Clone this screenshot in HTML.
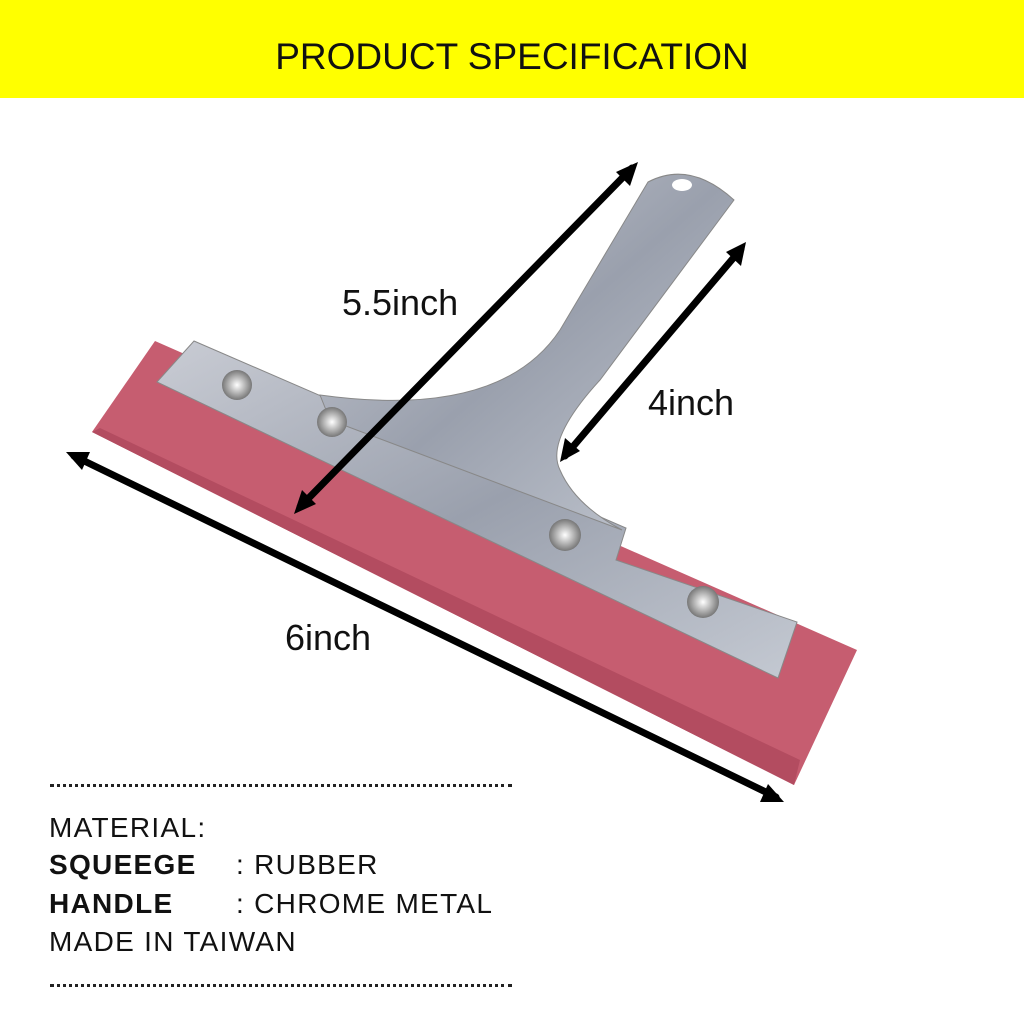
<!DOCTYPE html>
<html><head><meta charset="utf-8"><style>
body{margin:0;width:1024px;height:1024px;background:#fff;position:relative;overflow:hidden;font-family:"Liberation Sans",sans-serif}
.ban{position:absolute;left:0;top:0;width:1024px;height:98px;background:#ffff00}
.t{position:absolute;color:#111;white-space:nowrap}
.dot{position:absolute;left:50px;width:462px;border-top:3px dotted #222}
.s{letter-spacing:1.3px}
</style></head><body>
<div class="ban"></div>
<div class="t" style="left:0;width:1024px;text-align:center;top:36px;font-size:37px;font-weight:500">PRODUCT SPECIFICATION</div>
<svg width="1024" height="1024" style="position:absolute;left:0;top:0">
<defs>
<linearGradient id="m" x1="0" y1="0" x2="1" y2="1"><stop offset="0" stop-color="#c9ccd4"/><stop offset=".5" stop-color="#9aa0ad"/><stop offset="1" stop-color="#c4c9d2"/></linearGradient>
<radialGradient id="r"><stop offset="0" stop-color="#fff"/><stop offset="1" stop-color="#777"/></radialGradient>
</defs>
<polygon points="155,341 857,650 794,785 92,432" fill="#c65d70"/>
<polygon points="100,428 800,760 794,785 92,432" fill="#b34c60"/>
<polygon points="194,341 626,528 616,560 797,622 778,678 157,382" fill="url(#m)" stroke="#888" stroke-width="1"/>
<path d="M320 395 Q500 420 560 330 L648 182 Q690 160 734 200 L600 380 Q545 440 560 470 Q575 505 622 530 L330 420 Z" fill="url(#m)" stroke="#888"/>
<ellipse cx="682" cy="185" rx="10" ry="6" fill="#fff"/>
<circle cx="237" cy="385" r="15" fill="url(#r)"/>
<circle cx="332" cy="422" r="15" fill="url(#r)"/>
<circle cx="565" cy="535" r="16" fill="url(#r)"/>
<circle cx="703" cy="602" r="16" fill="url(#r)"/>
<g stroke="#000" stroke-width="7" fill="none" stroke-linecap="round">
<line x1="74" y1="456" x2="776" y2="797"/>
<line x1="300" y1="507" x2="632" y2="168"/>
<line x1="741" y1="249" x2="565" y2="456"/>
</g>
<g fill="#000">
<polygon points="66,452 90,452 82,470"/>
<polygon points="784,802 760,802 768,784"/>
<polygon points="294,514 302,490 316,504"/>
<polygon points="638,162 630,186 616,172"/>
<polygon points="746,242 741,266 726,252"/>
<polygon points="560,462 565,438 580,451"/>
</g>
</svg>
<div class="t" style="left:342px;top:282px;font-size:36px">5.5inch</div>
<div class="t" style="left:648px;top:382px;font-size:36px">4inch</div>
<div class="t" style="left:285px;top:617px;font-size:36px">6inch</div>
<div class="dot" style="top:784px"></div>
<div class="t s" style="left:49px;top:812px;font-size:28px">MATERIAL:</div>
<div class="t s" style="left:49px;top:849px;font-size:28px;font-weight:bold">SQUEEGE</div>
<div class="t s" style="left:236px;top:849px;font-size:28px">: RUBBER</div>
<div class="t s" style="left:49px;top:888px;font-size:28px;font-weight:bold">HANDLE</div>
<div class="t s" style="left:236px;top:888px;font-size:28px">: CHROME METAL</div>
<div class="t s" style="left:49px;top:926px;font-size:28px">MADE IN TAIWAN</div>
<div class="dot" style="top:984px"></div>
</body></html>
